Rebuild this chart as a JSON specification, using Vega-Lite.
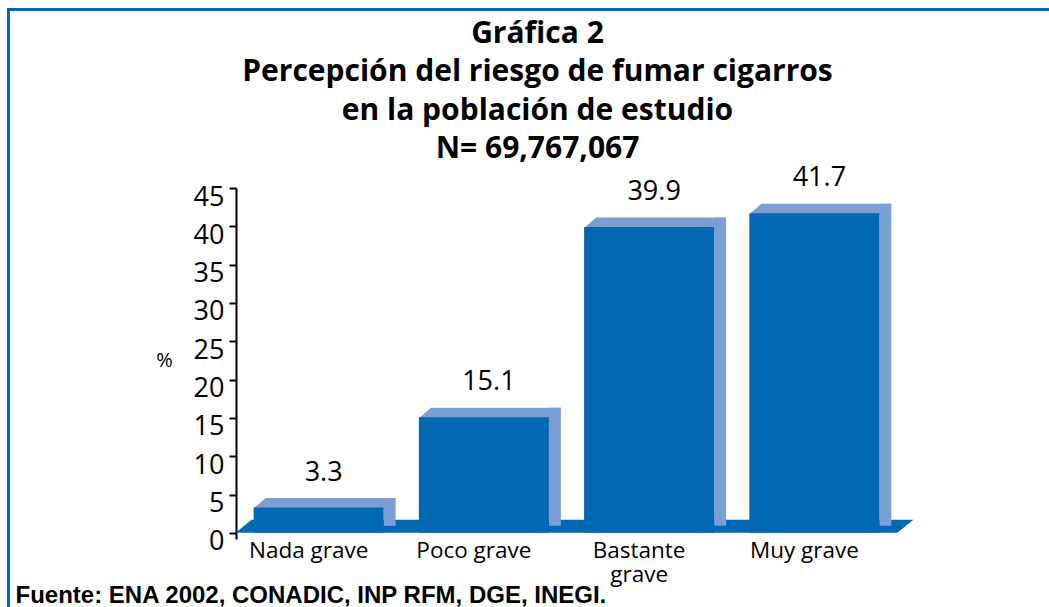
{
  "$schema": "https://vega.github.io/schema/vega-lite/v6.json",
  "width": 661,
  "height": 351,
  "autosize": {"type": "none"},
  "padding": {"left": 236, "top": 188, "right": 152, "bottom": 68},
  "background": "white",
  "config": {"view": {"stroke": null}},
  "title": {
    "text": ["Gráfica 2", "Percepción del riesgo de fumar cigarros", "en la población de estudio", "N= 69,767,067"],
    "font": "Open Sans",
    "fontSize": 30,
    "fontWeight": "bold",
    "lineHeight": 38.5,
    "color": "black",
    "anchor": "middle",
    "baseline": "bottom",
    "dx": -29,
    "offset": -186
  },
  "data": {
    "values": [
      {"categoria": "Nada grave", "porcentaje": 3.3},
      {"categoria": "Poco grave", "porcentaje": 15.1},
      {"categoria": "Bastante grave", "porcentaje": 39.9},
      {"categoria": "Muy grave", "porcentaje": 41.7}
    ]
  },
  "encoding": {
    "x": {
      "field": "categoria",
      "type": "nominal",
      "sort": null,
      "scale": {"paddingInner": 0.213, "paddingOuter": 0.1065},
      "axis": {
        "domain": false,
        "ticks": false,
        "labelAngle": 0,
        "labelFont": "Open Sans",
        "labelFontSize": 22.5,
        "labelColor": "black",
        "labelPadding": 0,
        "labelOffset": -10,
        "labelBaseline": "top",
        "labelLineHeight": 24,
        "labelExpr": "datum.label == 'Bastante grave' ? ['Bastante', 'grave'] : datum.label",
        "title": "Fuente: ENA 2002, CONADIC, INP RFM, DGE, INEGI.",
        "titleFont": "Liberation Sans",
        "titleFontSize": 24,
        "titleFontWeight": "bold",
        "titleColor": "black",
        "titleAlign": "left",
        "titleBaseline": "alphabetic",
        "titleX": -221,
        "titleY": 63
      }
    },
    "y": {
      "field": "porcentaje",
      "type": "quantitative",
      "scale": {"domain": [-0.8, 45], "nice": false, "zero": false},
      "axis": {
        "values": [0, 5, 10, 15, 20, 25, 30, 35, 40, 45],
        "grid": false,
        "domainColor": "black",
        "domainWidth": 2,
        "tickColor": "black",
        "tickWidth": 2,
        "tickSize": 7,
        "labelFont": "Open Sans",
        "labelFontSize": 27,
        "labelColor": "black",
        "labelPadding": 5,
        "labelBaseline": "top",
        "labelOffset": -4,
        "title": "%",
        "titleFont": "Open Sans",
        "titleFontSize": 20,
        "titleFontWeight": "normal",
        "titleColor": "black",
        "titleAngle": 0,
        "titleAlign": "center",
        "titleBaseline": "middle",
        "titleX": -72,
        "titleY": 172
      }
    }
  },
  "layer": [
    {
      "mark": {
        "type": "point",
        "shape": "M -8.3 0 L -6.7 -1.3 L 9.9 -1.3 L 8.3 0 Z",
        "size": 400,
        "filled": true,
        "opacity": 1,
        "strokeWidth": 0,
        "color": "#0467b2"
      },
      "encoding": {"y": {"datum": 0, "type": "quantitative"}}
    },
    {
      "mark": {
        "type": "bar",
        "width": 12,
        "xOffset": 71,
        "yOffset": -9.5,
        "y2Offset": -7,
        "color": "#7c9fd3"
      },
      "encoding": {"y2": {"datum": 0}}
    },
    {
      "mark": {
        "type": "point",
        "shape": "M -6.5 0.1 L -5.3 -0.95 L 7.7 -0.95 L 6.5 0.1 Z",
        "size": 400,
        "filled": true,
        "opacity": 1,
        "strokeWidth": 0,
        "color": "#7c9fd3"
      }
    },
    {
      "mark": {"type": "bar", "color": "#0467b2"},
      "encoding": {"y2": {"datum": 0}}
    },
    {
      "mark": {
        "type": "text",
        "font": "Open Sans",
        "fontSize": 27,
        "color": "black",
        "baseline": "middle",
        "dy": -35,
        "dx": 5
      },
      "encoding": {"text": {"field": "porcentaje", "type": "quantitative", "format": ".1f"}}
    },
    {
      "data": {"values": [{"linea": "izquierda"}]},
      "mark": {"type": "rule", "color": "#0467b2", "strokeWidth": 3},
      "encoding": {
        "x": {"value": -227.5},
        "y": {"value": -178.5},
        "y2": {"value": 430}
      }
    },
    {
      "data": {"values": [{"linea": "superior"}]},
      "mark": {"type": "rule", "color": "#0467b2", "strokeWidth": 3},
      "encoding": {
        "x": {"value": -229},
        "x2": {"value": 820},
        "y": {"value": -178.5}
      }
    }
  ]
}
